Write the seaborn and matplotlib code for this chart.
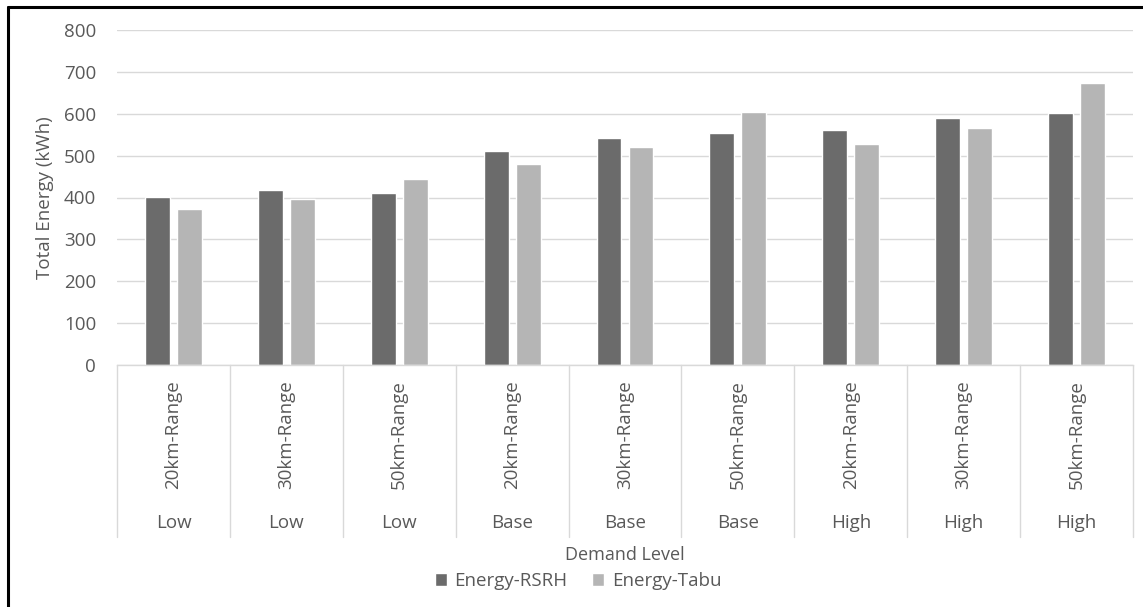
import matplotlib
matplotlib.use("Agg")
import matplotlib.pyplot as plt
from matplotlib.lines import Line2D
import pandas as pd
import seaborn as sns

# Data
demand_levels = ["Low", "Low", "Low", "Base", "Base", "Base", "High", "High", "High"]
ranges = ["20km-Range", "30km-Range", "50km-Range"] * 3
energy_rsrh = [402, 419, 411, 512, 541, 554, 561, 590, 601]
energy_tabu = [372, 397, 444, 480, 520, 604, 527, 565, 674]
series_names = ["Energy-RSRH", "Energy-Tabu"]
y_ticks = [0, 100, 200, 300, 400, 500, 600, 700, 800]

cases = [f"{d} | {r}" for d, r in zip(demand_levels, ranges)]
df = pd.DataFrame({
    "case": cases * 2,
    "energy": energy_rsrh + energy_tabu,
    "series": [series_names[0]] * len(cases) + [series_names[1]] * len(cases),
})

TEXT = "#595959"
GRID = "#d9d9d9"
FS = 13.5
colors = {"Energy-RSRH": "#6b6b6b", "Energy-Tabu": "#b5b5b5"}

sns.set_theme(style="white")
plt.rcParams["font.family"] = ["Open Sans", "DejaVu Sans"]

W, H = 1143, 607
fig = plt.figure(figsize=(W / 100, H / 100), dpi=100)
ax = fig.add_axes([117 / W, 1 - 365 / H, (1133 - 117) / W, (365 - 30) / H])

sns.barplot(data=df, x="case", y="energy", hue="series", order=cases,
            hue_order=series_names, palette=colors, saturation=1,
            width=0.567, gap=0.22, ax=ax)

handles, labels = ax.get_legend_handles_labels()
ax.get_legend().remove()

ax.set_ylim(0, 800)
ax.set_xlim(-0.5, len(cases) - 0.5)
ax.set_yticks(y_ticks)
ax.set_yticklabels([str(v) for v in y_ticks], color=TEXT, fontsize=FS)
ax.tick_params(axis="y", length=0, pad=15)
ax.set_axisbelow(True)
ax.yaxis.grid(True, color=GRID, linewidth=1.0)
ax.xaxis.grid(False)
for s in ["left", "right", "top"]:
    ax.spines[s].set_visible(False)
ax.spines["bottom"].set_color(GRID)
ax.spines["bottom"].set_linewidth(1.0)

# inner category level: range labels
ax.set_xticks(range(len(cases)))
ax.set_xticklabels(ranges, rotation=90, va="top", ha="center",
                   color=TEXT, fontsize=FS)
ax.tick_params(axis="x", length=0, pad=11)
ax.set_xlabel("")

ax.set_ylabel("Total Energy (kWh)", color=TEXT, fontsize=FS)
ax.yaxis.label.set_va("center")
ax.yaxis.set_label_coords((45 - 117) / (1133 - 117), 0.5)

trans = ax.get_xaxis_transform()
# category separators under the axis
for b in range(len(cases) + 1):
    ax.add_line(Line2D([b - 0.5, b - 0.5], [0, -0.513], transform=trans,
                       color=GRID, linewidth=1.0, clip_on=False))
# outer category level: demand labels
for i, d in enumerate(demand_levels):
    ax.text(i, -0.4716, d, transform=trans, ha="center", va="center",
            color=TEXT, fontsize=FS)

ax.text(0.5, -0.567, "Demand Level", transform=ax.transAxes, ha="center",
        va="center", color=TEXT, fontsize=13)

fig.legend(handles, labels, loc="center", bbox_to_anchor=(578 / W, 1 - 581 / H),
           ncol=2, frameon=False, fontsize=FS, handlelength=0.65,
           handleheight=0.65, handletextpad=0.4, columnspacing=1.3,
           labelcolor=TEXT)

# figure frame (left and top edges)
fig.add_artist(Line2D([8 / W, 8 / W], [0, 1 - 6.5 / H], transform=fig.transFigure,
                      color="black", linewidth=2.2))
fig.add_artist(Line2D([8 / W, 1], [1 - 6.5 / H, 1 - 6.5 / H], transform=fig.transFigure,
                      color="black", linewidth=2.2))

fig.savefig("out.png", dpi=100)
